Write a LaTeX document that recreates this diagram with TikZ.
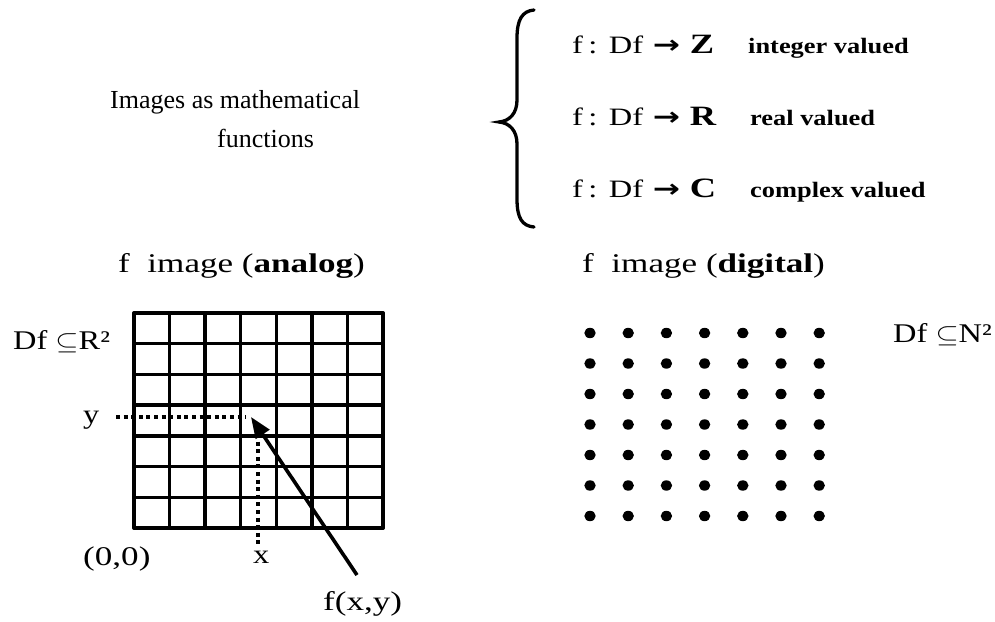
\documentclass[tikz,border=0pt]{standalone}
\usepackage{graphicx}
\usepackage{fontspec}
\setmainfont{Liberation Serif}
\newfontfamily\arrowfont{DejaVu Sans}
\usetikzlibrary{arrows.meta}
\newcommand\wideby[2]{\scalebox{#1}[1]{#2}}
\newcommand\mapsinto[1]{\wideby{1.3}{f\,:\hspace{0.35em}Df\hspace{0.3em}{\arrowfont\bfseries →}\hspace{0.3em}{\fontsize{28}{30}\selectfont\bfseries #1}}}
\begin{document}
\begin{tikzpicture}[x=1pt,y=-1pt,
  txt/.style={inner sep=0pt, anchor=base west},
  big/.style={font=\fontsize{26}{30}\selectfont},
  mid/.style={font=\fontsize{27}{31}\selectfont},
  frm/.style={font=\fontsize{25}{28}\selectfont},
  val/.style={font=\fontsize{22}{26}\selectfont\bfseries},
  gridline/.style={line width=3.5pt, line cap=round, line join=round},
  dotline/.style={line width=3.5pt, dash pattern=on 4pt off 3.6pt},
  pointer/.style={line width=3.6pt, -{Triangle[length=21pt,width=16pt]}},
  pixel/.style={fill=black}]
\useasboundingbox (0,0) rectangle (995,621);
% title
\node[txt, big] (title1) at (110,108) {Images as mathematical};
\node[txt, big] (title2) at (217,147) {functions};
% brace
\draw[line width=3.3pt, line cap=round] (534,10) .. controls (522,11) and (517,20) .. (517,38)
  -- (517,100) .. controls (517,113) and (510,121) .. (499,122)
  .. controls (510,123) and (517,131) .. (517,144)
  -- (517,199) .. controls (517,218) and (522,226) .. (534,227);
% formulas
\node[txt, frm] (fz) at (572,53) {\mapsinto{Z}};
\node[txt, frm] (fr) at (572,125) {\mapsinto{R}};
\node[txt, frm] (fc) at (572,197) {\mapsinto{C}};
\node[txt, val] (vz) at (748,53) {\wideby{1.2}{integer valued}};
\node[txt, val] (vr) at (750,125) {\wideby{1.2}{real valued}};
\node[txt, val] (vc) at (750,197) {\wideby{1.2}{complex valued}};
% headings
\node[txt, mid] (ha) at (118,272) {\wideby{1.3}{f\ \ image (\textbf{analog})}};
\node[txt, mid] (hd) at (582,272) {\wideby{1.3}{f\ \ image (\textbf{digital})}};
% domain labels
\node[txt, mid] (dr) at (13,349) {\wideby{1.2}{Df $\subseteq$R²}};
\node[txt, mid] (dn) at (893,342) {\wideby{1.2}{Df $\subseteq$N²}};
% analog grid
\foreach \i in {0,...,7} {
  \draw[gridline] ({134+35.57*\i},313) -- ({134+35.57*\i},528);
  \draw[gridline] (134,{313+30.71*\i}) -- (383,{313+30.71*\i});
}
% axis labels
\node[txt, mid] (ly) at (83,423) {\wideby{1.2}{y}};
\node[txt, mid] (lo) at (83,565) {\wideby{1.3}{(0,0)}};
\node[txt, mid] (lx) at (253,563) {\wideby{1.2}{x}};
\node[txt, mid] (lf) at (323,610) {\wideby{1.3}{f(x,y)}};
\coordinate (ystart) at (116,417);
\coordinate (yend) at (246,417);
\coordinate (xstart) at (258,434);
\coordinate (xend) at (258,547);
\draw[dotline] (ystart) -- (yend);
\draw[dotline] (xstart) -- (xend);
\coordinate (tail) at (357,575);
\coordinate (tip) at (251,417);
\draw[pointer] (tail) -- (tip);
% digital dots
\foreach \i in {0,...,6} {
  \foreach \j in {0,...,6} {
    \fill[pixel] ({590+38.2*\i},{333+30.5*\j}) ellipse (5.7pt and 5.2pt);
  }
}
\end{tikzpicture}
\end{document}
